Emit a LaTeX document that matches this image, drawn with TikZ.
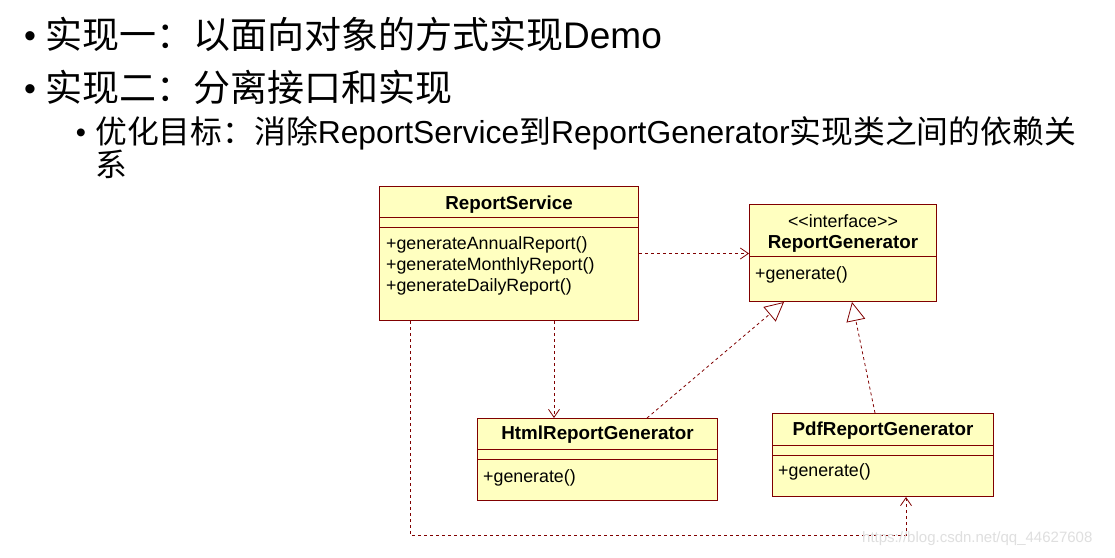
\documentclass[tikz,border=0pt]{standalone}
\usepackage{fontspec}
\setmainfont{Liberation Sans}
\newfontfamily\cjk{Noto Sans CJK SC}
\usetikzlibrary{arrows.meta,calc}
\definecolor{umlred}{RGB}{128,0,0}
\definecolor{umlfill}{RGB}{255,255,192}
\begin{document}
\begin{tikzpicture}[x=1pt,y=-1pt,
 box/.style={draw=umlred, fill=umlfill, line width=1pt, anchor=north west, inner sep=0pt},
 title/.style={font=\fontsize{18.8}{20}\selectfont\bfseries, inner sep=0pt},
 member/.style={font=\fontsize{17.8}{20}\selectfont, anchor=west, inner sep=0pt},
 sep/.style={draw=umlred, line width=1pt},
 dep/.style={draw=umlred, line width=0.8pt, dash pattern=on 3pt off 3pt, -{Straight Barb[length=8pt,width=11pt]}},
 real/.style={draw=umlred, line width=0.8pt, dash pattern=on 3pt off 3pt, -{Triangle[open,length=19pt,width=19pt]}},
 big/.style={anchor=base west, inner sep=0pt, font=\fontsize{37}{40}\selectfont},
 mid/.style={anchor=base west, inner sep=0pt, font=\fontsize{31.8}{34}\selectfont},
 bul/.style={anchor=base, inner sep=0pt}]
\useasboundingbox[fill=white] (0,0) rectangle (1115,557);

% text lines
\node[bul, font=\fontsize{34}{40}\selectfont] (b1) at (30,47) {•};
\node[big] (l1) at (45,48) {{\cjk 实现一：以面向对象的方式实现}Demo};
\node[bul, font=\fontsize{34}{40}\selectfont] (b2) at (30,100) {•};
\node[big] (l2) at (45,101) {{\cjk 实现二：分离接口和实现}};
\node[bul, font=\fontsize{29}{34}\selectfont] (b3) at (81,142) {•};
\node[mid] (l3) at (95,143) {{\cjk 优化目标：消除}ReportService{\cjk 到}ReportGenerator{\cjk 实现类之间的依赖关}};
\node[mid] (l4) at (95,176) {{\cjk 系}};

% ReportService
\node[box, minimum width=259pt, minimum height=134pt] (rs) at (379,186) {};
\draw[sep] ($(rs.north west)+(0,31)$) -- ($(rs.north east)+(0,31)$);
\draw[sep] ($(rs.north west)+(0,41)$) -- ($(rs.north east)+(0,41)$);
\node[title] (rst) at ($(rs.north)+(0,18.5)$) {ReportService};
\node[member] (rsm1) at ($(rs.north west)+(7,58.5)$) {+generateAnnualReport()};
\node[member] (rsm2) at ($(rs.north west)+(7,79.5)$) {+generateMonthlyReport()};
\node[member] (rsm3) at ($(rs.north west)+(7,100.5)$) {+generateDailyReport()};

% ReportGenerator
\node[box, minimum width=187pt, minimum height=97pt] (rg) at (749,204) {};
\draw[sep] ($(rg.north west)+(0,52)$) -- ($(rg.north east)+(0,52)$);
\node[member, anchor=center] (rgs) at ($(rg.north)+(0,17)$) {<{}<interface>{}>};
\node[title] (rgt) at ($(rg.north)+(0,39.5)$) {ReportGenerator};
\node[member] (rgm) at ($(rg.north west)+(6,70.5)$) {+generate()};

% HtmlReportGenerator
\node[box, minimum width=240pt, minimum height=82pt] (hr) at (477,418) {};
\draw[sep] ($(hr.north west)+(0,31)$) -- ($(hr.north east)+(0,31)$);
\draw[sep] ($(hr.north west)+(0,41)$) -- ($(hr.north east)+(0,41)$);
\node[title] (hrt) at ($(hr.north)+(0,17)$) {HtmlReportGenerator};
\node[member] (hrm) at ($(hr.north west)+(6,60)$) {+generate()};

% PdfReportGenerator
\node[box, minimum width=221pt, minimum height=83pt] (pr) at (772,413) {};
\draw[sep] ($(pr.north west)+(0,32)$) -- ($(pr.north east)+(0,32)$);
\draw[sep] ($(pr.north west)+(0,42)$) -- ($(pr.north east)+(0,42)$);
\node[title] (prt) at ($(pr.north)+(0,18)$) {PdfReportGenerator};
\node[member] (prm) at ($(pr.north west)+(6,59)$) {+generate()};

% connectors
\draw[dep] (rs.east) -- (rs.east -| rg.west);
\draw[dep] ($(rs.south west)+(175,0)$) -- ($(hr.north west)+(77,0)$);
\draw[dep] ($(rs.south west)+(31,0)$) -- ++(0,214) -| ($(pr.south west)+(134,0)$);
\draw[real] ($(hr.north west)+(170,0)$) -- ($(rg.south west)+(35,0)$);
\draw[real] ($(pr.north west)+(103,0)$) -- ($(rg.south west)+(103,0)$);

% watermark
\node[anchor=base west, inner sep=0pt, text=gray!25, font=\fontsize{15}{15}\selectfont] (wm) at (862,542) {https://blog.csdn.net/qq\_44627608};
\end{tikzpicture}
\end{document}
